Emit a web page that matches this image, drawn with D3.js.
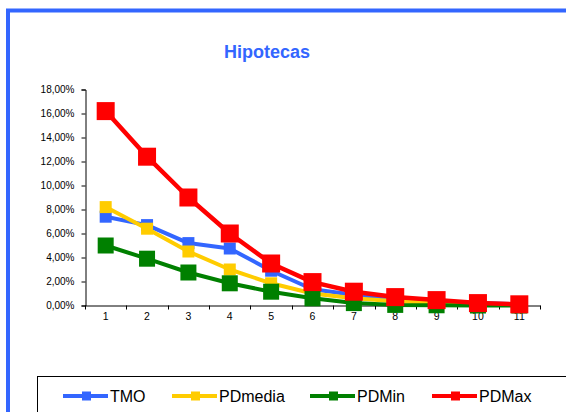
<!DOCTYPE html>
<html>
<head>
<meta charset="utf-8">
<script src="https://cdn.jsdelivr.net/npm/d3@7"></script>
<style>
  body { margin: 0; background: #fff; }
  svg { display: block; }
</style>
</head>
<body>
<script>
const categories = ["1", "2", "3", "4", "5", "6", "7", "8", "9", "10", "11"];
const tmo = [7.4, 6.7, 5.2, 4.75, 2.9, 1.35, 0.9, 0.55, 0.35, 0.2, 0.1];
const pdMedia = [8.2, 6.4, 4.5, 3.0, 1.85, 1.0, 0.6, 0.35, 0.2, 0.1, 0.05];
const pdMin = [5.0, 3.9, 2.75, 1.85, 1.15, 0.6, 0.2, 0.05, 0.02, 0.0, 0.0];
const pdMax = [16.2, 12.4, 9.0, 6.0, 3.5, 1.95, 1.15, 0.7, 0.45, 0.2, 0.1];
const yTicks = [0, 2, 4, 6, 8, 10, 12, 14, 16, 18];

const series = [
  { name: "TMO", values: tmo, color: "#3366ff", size: 12, width: 4 },
  { name: "PDmedia", values: pdMedia, color: "#ffcc00", size: 12, width: 4 },
  { name: "PDMin", values: pdMin, color: "#008000", size: 16, width: 4 },
  { name: "PDMax", values: pdMax, color: "#ff0000", size: 18, width: 4.5 }
];

const width = 566, height = 412;
const svg = d3.select("body").append("svg")
  .attr("width", width)
  .attr("height", height);

// outer chart border
svg.append("rect")
  .attr("x", 8).attr("y", 10.5)
  .attr("width", 600).attr("height", 450)
  .attr("fill", "none")
  .attr("stroke", "#3366ff")
  .attr("stroke-width", 4);

svg.append("text")
  .attr("x", 267).attr("y", 58)
  .attr("text-anchor", "middle")
  .attr("font-family", "Liberation Sans, Arial, sans-serif")
  .attr("font-size", 18)
  .attr("font-weight", "bold")
  .attr("fill", "#3366ff")
  .text("Hipotecas");

const x = d3.scaleBand().domain(categories).range([85, 540]);
const y = d3.scaleLinear().domain([0, 18]).range([305.5, 89.5]);

const axisFont = "Liberation Sans, Arial, sans-serif";

// y axis
const yAxis = svg.append("g")
  .attr("transform", "translate(85.5,0)")
  .call(d3.axisLeft(y).tickValues(yTicks).tickSize(4).tickPadding(7)
    .tickFormat(d => d3.format(".2f")(d).replace(".", ",") + "%"));
yAxis.select(".domain").attr("stroke", "#000");
yAxis.selectAll("text").attr("font-family", axisFont).attr("font-size", 10).attr("fill", "#000");

// x axis
const xAxis = svg.append("g")
  .attr("transform", "translate(0,305.5)")
  .call(d3.axisBottom(x).tickSize(0).tickPadding(7));
xAxis.select(".domain").attr("stroke", "#000");
xAxis.selectAll("text").attr("font-family", axisFont).attr("font-size", 10.5).attr("fill", "#000");
xAxis.selectAll(".sep")
  .data(categories.concat([""]))
  .join("line")
  .attr("class", "sep")
  .attr("x1", (d, i) => Math.round(85 + i * x.step()) + 0.5)
  .attr("x2", (d, i) => Math.round(85 + i * x.step()) + 0.5)
  .attr("y1", 0).attr("y2", 4)
  .attr("stroke", "#000");

const line = d3.line()
  .x((d, i) => x(categories[i]) + x.bandwidth() / 2)
  .y(d => y(d));

const g = svg.append("g");
series.forEach(s => {
  g.append("path")
    .attr("d", line(s.values))
    .attr("fill", "none")
    .attr("stroke", s.color)
    .attr("stroke-width", s.width)
    .attr("stroke-linejoin", "round");
  g.selectAll(null)
    .data(s.values)
    .join("rect")
    .attr("x", (d, i) => x(categories[i]) + x.bandwidth() / 2 - s.size / 2)
    .attr("y", d => y(d) - s.size / 2)
    .attr("width", s.size)
    .attr("height", s.size)
    .attr("fill", s.color);
});

// legend
svg.append("rect")
  .attr("x", 37.5).attr("y", 376.5)
  .attr("width", 600).attr("height", 100)
  .attr("fill", "#fff")
  .attr("stroke", "#000")
  .attr("stroke-width", 1);

const legendX = [63, 172, 310, 432];
const leg = svg.append("g").selectAll("g")
  .data(series)
  .join("g")
  .attr("transform", (d, i) => `translate(${legendX[i]},396)`);
leg.append("line")
  .attr("x1", 0).attr("x2", 45)
  .attr("stroke", d => d.color)
  .attr("stroke-width", 4);
leg.append("rect")
  .attr("x", 19).attr("y", -4.5)
  .attr("width", 9).attr("height", 9)
  .attr("fill", d => d.color);
leg.append("text")
  .attr("x", 47).attr("y", 6)
  .attr("font-family", axisFont)
  .attr("font-size", 16)
  .attr("fill", "#000")
  .text(d => d.name);
</script>
</body>
</html>
